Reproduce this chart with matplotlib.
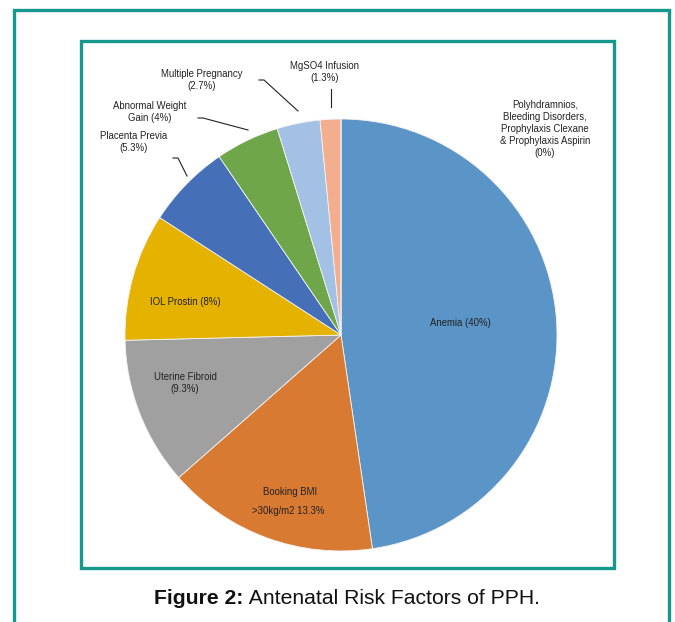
import matplotlib
matplotlib.use("Agg")
import matplotlib.pyplot as plt
from matplotlib.patches import Rectangle

# -------------------------
# Data
# -------------------------
factors = ["Anemia", "Booking BMI", "Uterine Fibroid", "IOL Prostin",
           "Placenta Previa", "Abnormal Weight Gain", "Multiple Pregnancy",
           "MgSO4 Infusion", "Polyhdramnios etc."]
percents = [40, 13.3, 9.3, 8, 5.3, 4, 2.7, 1.3, 0]
labels = ["Anemia (40%)",
          "Booking BMI",
          "Uterine Fibroid\n(9.3%)",
          "IOL Prostin (8%)",
          "Placenta Previa\n(5.3%)",
          "Abnormal Weight\nGain (4%)",
          "Multiple Pregnancy\n(2.7%)",
          "MgSO4 Infusion\n(1.3%)",
          "Polyhdramnios,\nBleeding Disorders,\nProphylaxis Clexane\n& Prophylaxis Aspirin\n(0%)"]
bmi_note = ">30kg/m2 13.3%"
colors = ["#5B94C6", "#D97A33", "#A0A0A0", "#E5B200", "#4570B8",
          "#6FA64A", "#A3C1E4", "#F2AE8E", "#FFFFFF"]

W, H = 675, 622
TEAL = "#16998C"
FONT = "Liberation Sans"

def py(y):
    # picture rows -> axis y
    return H - y

fig = plt.figure(figsize=(W / 100, H / 100), dpi=100)
ax = fig.add_axes([0, 0, 1, 1])

cx, cy, r = 341, py(335), 216
wedges, _ = ax.pie(percents, colors=colors, startangle=90, counterclock=False,
                   center=(cx, cy), radius=r,
                   wedgeprops=dict(linewidth=0.6, edgecolor="#F4F4F4"))
ax.set_xlim(0, W)
ax.set_ylim(0, H)
ax.set_aspect("equal")
ax.axis("off")

# frames
ax.add_patch(Rectangle((14, py(700)), 655, 690, fill=False, edgecolor=TEAL, lw=2.4))
ax.add_patch(Rectangle((81, py(568)), 533, 527, fill=False, edgecolor=TEAL, lw=2.4))

# labels inside / outside
pos = [(460, 323), (290, 492), (185, 383), (185, 302), (134, 142),
       (150, 112), (202, 80), (325, 72), (545, 129)]
fs = 6.9
for lab, (x, y) in zip(labels, pos):
    ax.text(x, py(y), lab, ha="center", va="center", fontsize=fs,
            family=FONT, color="#222222", linespacing=1.28)
ax.text(288, py(511), bmi_note, ha="center", va="center", fontsize=fs,
        family=FONT, color="#222222")

# leader lines
leaders = [
    [(331, 89), (331, 107)],
    [(259, 80), (264, 80), (298, 111)],
    [(198, 118), (203, 118), (248, 130)],
    [(173, 158), (178, 158), (187, 176)],
]
for pts in leaders:
    ax.plot([p[0] for p in pts], [py(p[1]) for p in pts], color="#222222", lw=0.8)

# caption
t1 = ax.text(0, py(598), "Figure 2:", ha="left", va="center", fontsize=15.2,
             fontweight="bold", family=FONT, color="#111111")
t2 = ax.text(0, py(598), " Antenatal Risk Factors of PPH.", ha="left", va="center",
             fontsize=15.2, family=FONT, color="#111111")
fig.canvas.draw()
rend = fig.canvas.get_renderer()
w1 = t1.get_window_extent(rend).width
w2 = t2.get_window_extent(rend).width
x0 = 347 - (w1 + w2) / 2
t1.set_x(x0)
t2.set_x(x0 + w1)

fig.savefig("out.png", dpi=100)
